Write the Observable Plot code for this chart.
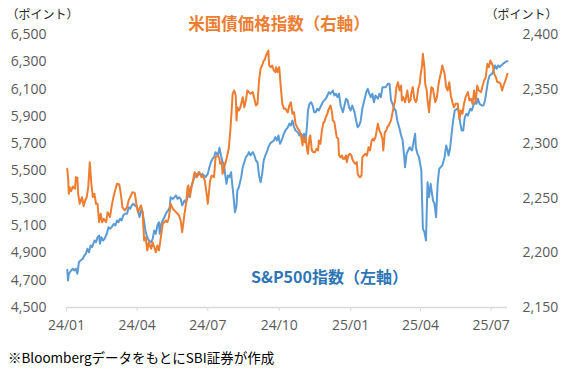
<!DOCTYPE html>
<html>
<head>
<meta charset="utf-8">
<script src="https://cdn.jsdelivr.net/npm/d3@7"></script>
<script src="https://cdn.jsdelivr.net/npm/@observablehq/plot@0.6"></script>
<style>
  html, body { margin: 0; padding: 0; background: #fff; }
  #chart svg { display: block; }
  #note { font-family: "Noto Sans CJK JP", sans-serif; font-size: 13.5px; color: #000;
          line-height: 20px; margin-top: 7px; padding-left: 8px; white-space: nowrap; }
</style>
</head>
<body>
<div id="chart"></div>
<div id="note">※Bloombergデータをもとに<span style="letter-spacing:0">SBI</span>証券が作成</div>
<script>
// ---- data (day = days since 2024-01-01) ----
const spDay = [
  1,2,3,6,8,10,12,14,16,18,
  21,23,25,27,29,31,33,36,38,40,
  42,43,45,47,49,52,54,56,58,61,
  63,65,67,69,71,73,75,78,80,82,
  84,86,88,91,94,96,98,100,102,104,
  106,109,111,113,115,117,119,120,122,124,
  127,129,131,133,134,137,139,141,143,145,
  147,149,152,154,156,158,160,162,164,167,
  169,171,173,175,177,179,182,184,186,188,
  190,192,195,197,199,201,203,204,206,208,
  210,212,213,215,217,219,220,222,225,227,
  229,231,233,235,237,240,242,244,246,248,
  250,252,254,256,258,260,262,264,267,269,
  271,273,275,277,280,282,285,287,289,291,
  293,295,298,300,302,304,306,308,310,311,
  313,315,317,319,321,323,325,328,330,332,
  334,336,338,340,343,345,347,349,351,353,
  356,358,360,362,364,366,368,371,373,375,
  377,379,381,383,386,388,390,392,394,396,
  398,401,403,405,407,409,411,414,416,418,
  420,422,424,426,429,431,433,435,436,438,
  440,442,445,447,449,450,452,454,457,459,
  461,463,465,467,469,472,474,476,478,480,
  482,484,487,489,491,492,494,496,498,500,
  503,505,507,509,511,513,515,517,520,522,
  524,526,528,530,532,535,537,539,541,543,
  545,548,550,552,554,556,558,560,562,565,
  567,568
];
const spValue = [
  4776,4698,4747,4771,4784,4771,4784,4747,4832,4844,
  4857,4881,4893,4930,4905,4954,4942,4991,4978,5015,
  5027,4967,5015,4991,5003,5040,5088,5077,5088,5113,
  5101,5137,5125,5150,5137,5174,5186,5186,5235,5223,
  5247,5260,5247,5235,5162,5211,5198,5125,5052,5015,
  4991,4978,5003,5064,5040,5101,5125,5040,5113,5137,
  5174,5198,5211,5235,5308,5296,5308,5321,5296,5308,
  5296,5247,5284,5271,5308,5333,5370,5406,5443,5479,
  5467,5491,5467,5479,5467,5455,5479,5528,5564,5589,
  5601,5638,5614,5670,5614,5564,5553,5491,5406,5467,
  5455,5491,5430,5321,5198,5247,5357,5381,5455,5528,
  5564,5601,5614,5638,5614,5638,5614,5577,5564,5467,
  5418,5479,5577,5614,5638,5674,5699,5711,5723,5748,
  5723,5760,5699,5723,5773,5797,5819,5848,5833,5870,
  5821,5797,5784,5760,5773,5748,5773,5723,5846,5943,
  5992,6004,5980,5931,5931,5956,5943,5980,6004,6017,
  6029,6053,6077,6066,6090,6053,6066,6041,6066,5980,
  5931,5980,6029,6017,5967,5943,5980,5931,5870,5821,
  5833,5870,5956,6004,6077,6102,6066,6041,6066,6004,
  6053,6029,6066,6041,6114,6114,6114,6139,6139,6017,
  5992,5956,5943,5870,5809,5760,5723,5601,5528,5626,
  5650,5674,5650,5711,5773,5674,5626,5601,5504,5077,
  5052,4991,5418,5308,5406,5284,5260,5162,5406,5516,
  5528,5540,5601,5687,5650,5614,5663,5773,5870,5943,
  5956,5943,5858,5797,5797,5894,5919,5907,5956,5943,
  5980,6004,5992,6029,5992,5980,5980,6017,6090,6163,
  6200,6212,6236,6273,6249,6273,6261,6273,6285,6297,
  6304,6304
];
const bondDay = [
  1,2,3,4,6,8,11,12,14,15,
  17,20,22,24,26,28,30,32,34,36,
  38,40,42,44,46,48,51,53,56,58,
  60,62,65,68,70,72,75,78,80,83,
  85,88,90,92,96,98,100,102,104,106,
  109,111,113,115,117,119,121,124,126,128,
  130,132,134,137,139,141,143,145,147,149,
  152,154,156,157,159,161,163,165,168,170,
  172,174,176,178,180,182,185,187,190,192,
  195,197,198,200,201,203,205,207,209,211,
  213,214,216,218,219,220,222,224,227,229,
  231,233,235,237,240,242,244,246,248,250,
  252,254,255,257,258,260,261,263,265,267,
  269,270,272,274,276,278,280,282,285,287,
  289,291,293,295,298,300,302,304,305,307,
  308,310,311,313,314,316,318,320,322,324,
  325,327,329,331,332,334,336,337,339,340,
  342,343,345,347,348,350,351,353,355,356,
  358,360,361,363,365,367,368,370,372,374,
  375,376,378,380,381,383,385,387,389,391,
  393,395,396,398,401,403,405,407,408,410,
  412,413,415,418,420,422,423,425,427,429,
  431,432,434,436,437,439,441,443,444,446,
  448,450,451,453,455,456,458,459,461,462,
  464,465,467,468,470,472,473,475,477,479,
  480,482,484,487,489,491,493,495,497,499,
  501,504,506,508,510,512,514,517,519,521,
  523,525,527,529,531,534,536,538,540,542,
  544,546,549,551,553,555,557,559,561,563,
  566,568
];
const bondValue = [
  2277.0,2269.3,2254.1,2260.2,2256.5,2260.8,2258.7,2269.3,2268.8,2254.1,
  2245.0,2251.0,2242.8,2248.0,2251.0,2260.2,2283.1,2263.3,2251.0,2254.1,
  2245.0,2245.0,2228.1,2235.8,2228.1,2231.2,2228.1,2237.3,2232.7,2241.9,
  2249.5,2255.6,2263.3,2262.6,2254.1,2241.9,2238.8,2241.9,2248.0,2252.6,
  2255.6,2254.7,2245.0,2237.3,2243.4,2237.3,2211.4,2214.4,2202.2,2209.8,
  2203.8,2209.8,2205.2,2200.6,2206.8,2202.2,2211.4,2226.7,2228.1,2229.7,
  2228.1,2232.7,2245.0,2240.4,2238.8,2237.3,2235.8,2234.3,2229.7,2219.0,
  2235.8,2245.0,2260.2,2261.7,2251.0,2260.2,2266.3,2273.9,2269.3,2273.9,
  2272.4,2269.3,2270.9,2266.3,2257.1,2245.0,2266.3,2270.9,2269.3,2287.6,
  2289.2,2286.2,2281.6,2283.1,2272.4,2278.5,2283.1,2289.2,2295.3,2312.1,
  2333.4,2345.7,2348.7,2344.2,2321.3,2333.4,2330.4,2333.4,2342.6,2333.4,
  2339.6,2348.7,2347.2,2345.7,2347.2,2341.1,2335.0,2336.5,2357.9,2368.6,
  2371.6,2376.2,2376.2,2380.8,2382.3,2385.4,2371.6,2370.1,2371.6,2367.0,
  2365.5,2370.1,2365.5,2370.1,2351.8,2336.5,2332.0,2332.2,2328.6,2335.0,
  2338.0,2327.4,2328.9,2318.2,2313.7,2312.1,2307.5,2298.4,2306.0,2301.4,
  2306.0,2293.8,2290.8,2306.0,2307.5,2293.8,2292.2,2292.2,2295.3,2293.8,
  2302.9,2299.9,2312.1,2319.7,2319.7,2324.3,2327.4,2330.4,2333.4,2335.0,
  2328.9,2321.3,2319.7,2310.5,2306.0,2304.5,2289.2,2287.6,2289.2,2286.2,
  2286.2,2289.2,2283.1,2289.2,2290.8,2289.2,2286.2,2283.1,2281.6,2283.1,
  2272.4,2270.9,2269.3,2270.9,2287.6,2289.2,2290.8,2289.2,2296.8,2293.8,
  2302.9,2304.5,2302.9,2306.0,2318.2,2312.1,2309.1,2304.5,2293.8,2310.5,
  2312.1,2315.1,2316.7,2321.3,2328.9,2336.5,2338.0,2351.8,2356.3,2348.7,
  2353.3,2339.6,2342.6,2338.0,2341.1,2348.7,2338.0,2339.6,2345.7,2351.8,
  2341.1,2338.0,2339.6,2350.3,2354.9,2362.5,2371.6,2382.3,2370.1,2354.9,
  2348.7,2339.6,2328.9,2338.0,2351.8,2350.3,2345.7,2338.0,2342.3,2353.3,
  2357.9,2364.0,2371.6,2364.0,2351.8,2348.7,2356.3,2344.2,2338.0,2333.4,
  2336.5,2336.5,2322.8,2330.4,2327.4,2336.5,2342.6,2347.2,2339.6,2341.1,
  2336.5,2348.7,2338.0,2353.3,2348.7,2347.2,2353.3,2357.9,2360.9,2373.2,
  2370.1,2376.2,2371.6,2364.0,2360.9,2356.3,2356.3,2354.9,2348.7,2353.3,
  2359.4,2364.0
];

const leftTicks  = [4500, 4700, 4900, 5100, 5300, 5500, 5700, 5900, 6100, 6300, 6500];
const rightTicks = [2150, 2200, 2250, 2300, 2350, 2400];
const xTickDates  = ["2024-01-01","2024-04-01","2024-07-01","2024-10-01","2025-01-01","2025-04-01","2025-07-01"];
const xTickLabels = ["24/01","24/04","24/07","24/10","25/01","25/04","25/07"];
const startDate = "2024-01-01";
const endDate   = "2025-07-22";

const unitLabel   = "（ポイント）";
const bondLabel   = "米国債価格指数（右軸）";
const spLabel     = "S&P500指数（左軸）";

// ---- build ----
const leftDomain  = [leftTicks[0], leftTicks[leftTicks.length - 1]];
const rightDomain = [rightTicks[0], rightTicks[rightTicks.length - 1]];
const toLeft = v => leftDomain[0] + (v - rightDomain[0]) * (leftDomain[1] - leftDomain[0]) / (rightDomain[1] - rightDomain[0]);
const t0 = new Date(startDate + "T00:00:00Z");
const dayDate = d => new Date(t0.getTime() + d * 864e5);

const sp   = spDay.map((d, i) => ({date: dayDate(d), value: spValue[i]}));
const bond = bondDay.map((d, i) => ({date: dayDate(d), value: toLeft(bondValue[i])}));
if (spDay.length !== spValue.length || bondDay.length !== bondValue.length) console.warn("length mismatch");

const fmt = d3.format(",");
const cjk = "'Noto Sans CJK JP', sans-serif";

const chart = Plot.plot({
  width: 564,
  height: 340,
  marginLeft: 66,
  marginRight: 57,
  marginTop: 34,
  marginBottom: 33,
  style: {fontFamily: "'Open Sans', sans-serif", fontSize: "14px", color: "#595959", background: "#fff"},
  x: {type: "utc", domain: [t0, new Date(endDate + "T00:00:00Z")]},
  y: {domain: leftDomain},
  marks: [
    Plot.ruleY([leftDomain[0]], {stroke: "#d9d9d9", strokeWidth: 1.3}),
    Plot.axisX({
      ticks: xTickDates.map(s => new Date(s + "T00:00:00Z")),
      tickFormat: (d, i) => xTickLabels[i],
      tickSize: 4, tickPadding: 9, stroke: "#d9d9d9", fill: "#595959", label: null
    }),
    Plot.axisY({anchor: "left", ticks: leftTicks, tickFormat: fmt, tickSize: 0, tickPadding: 20, label: null}),
    Plot.axisY({anchor: "right", ticks: rightTicks.map(toLeft), tickFormat: (d, i) => fmt(rightTicks[i]), tickSize: 0, tickPadding: 15, label: null}),
    Plot.line(sp,   {x: "date", y: "value", stroke: "#5B9BD5", strokeWidth: 2}),
    Plot.line(bond, {x: "date", y: "value", stroke: "#ED7D31", strokeWidth: 2}),
    Plot.text([unitLabel], {text: d => d, frameAnchor: "top-left", textAnchor: "middle", lineAnchor: "middle", dx: -24, dy: -19, fontFamily: cjk, fontSize: 12, fill: "#262626"}),
    Plot.text([unitLabel], {text: d => d, frameAnchor: "top-right", textAnchor: "middle", lineAnchor: "middle", dx: 14, dy: -19, fontFamily: cjk, fontSize: 12, fill: "#262626"}),
    Plot.text([bondLabel], {text: d => d, frameAnchor: "top", textAnchor: "middle", lineAnchor: "middle", dx: -8, dy: -9.5, fontFamily: cjk, fontSize: 16.5, fontWeight: "bold", fill: "#ED7D31"}),
    Plot.text([spLabel], {text: d => d, frameAnchor: "bottom", textAnchor: "middle", lineAnchor: "middle", dx: 42.5, dy: -30, fontFamily: cjk, fontSize: 16, fontWeight: "bold", fill: "#2E75B6"})
  ]
});
document.getElementById("chart").appendChild(chart);
</script>
</body>
</html>
